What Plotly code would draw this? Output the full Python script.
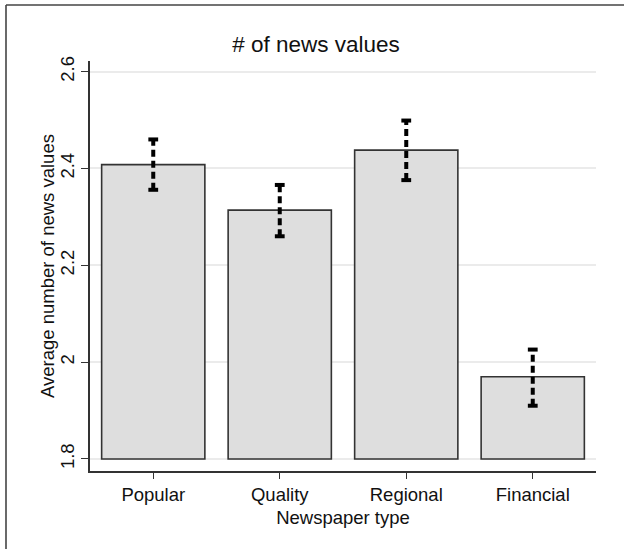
import plotly.graph_objects as go

categories = ["Popular", "Quality", "Regional", "Financial"]
means = [2.408, 2.314, 2.438, 1.970]
lower = [2.356, 2.260, 2.376, 1.910]
upper = [2.460, 2.366, 2.499, 2.026]
y_ticks = [1.8, 2.0, 2.2, 2.4, 2.6]
y_ticklabels = ["1.8", "2", "2.2", "2.4", "2.6"]
base_value = 1.8

FONT = "Liberation Sans, Arial, sans-serif"
W, H = 624, 549
L, R, T, B = 90, 28, 61, 78

fig = go.Figure()
fig.add_trace(go.Bar(
    x=categories,
    y=[m - base_value for m in means],
    base=[base_value] * len(means),
    width=0.816,
    marker=dict(color="#dedede", line=dict(color="#333333", width=1.6)),
    showlegend=False,
))

# dashed error bars
ex, ey = [], []
for c, lo, hi in zip(categories, lower, upper):
    ex += [c, c, None]
    ey += [lo, hi, None]
fig.add_trace(go.Scatter(
    x=ex, y=ey, mode="lines",
    line=dict(color="#000000", width=4, dash="7px,4px"),
    showlegend=False, hoverinfo="skip",
))
fig.add_trace(go.Scatter(
    x=categories + categories, y=lower + upper, mode="markers",
    marker=dict(symbol="line-ew", size=7, line=dict(color="#000000", width=4)),
    showlegend=False, hoverinfo="skip",
))

pw, ph = W - L - R, H - T - B

fig.update_layout(
    width=W, height=H,
    margin=dict(l=L, r=R, t=T, b=B, autoexpand=False),
    paper_bgcolor="white", plot_bgcolor="white",
    font=dict(family=FONT, size=18.5, color="#111111"),
    title=dict(text="# of news values", font=dict(size=22.5, family=FONT, color="#111111"),
               x=316 / W, xanchor="center", xref="container",
               y=1 - 44 / H, yanchor="middle", yref="container"),
    bargap=0.2,
)
fig.update_xaxes(
    range=[-0.5, 3.5], automargin=False,
    showline=True, linecolor="#333333", linewidth=1.6,
    ticks="outside", ticklen=6, tickwidth=1.2, tickcolor="#333333",
    showgrid=False, zeroline=False,
    tickfont=dict(size=18.5, family=FONT),
    title=dict(text="Newspaper type", font=dict(size=18.5, family=FONT), standoff=7),
)
fig.update_yaxes(
    range=[1.7752, 2.622], automargin=False,
    tickvals=y_ticks, ticktext=y_ticklabels, tickangle=-90,
    showline=True, linecolor="#333333", linewidth=1.6,
    ticks="outside", ticklen=7, tickwidth=1.2, tickcolor="#333333",
    showgrid=True, gridcolor="#ebebeb", gridwidth=1.5,
    zeroline=False,
    tickfont=dict(size=18.5, family=FONT),
)
fig.add_annotation(
    text="Average number of news values", textangle=-90,
    xref="paper", yref="paper", x=(47 - L) / pw, y=0.5,
    xanchor="center", yanchor="middle", showarrow=False,
    font=dict(size=18.5, family=FONT, color="#111111"),
)

# outer frame (top and left edges)
fx0 = (6 - L) / pw
fy0 = 1 + (T - 5) / ph
fig.add_shape(type="line", xref="paper", yref="paper",
              x0=fx0, x1=(W + 5 - L) / pw, y0=fy0, y1=fy0,
              line=dict(color="#444444", width=1.6))
fig.add_shape(type="line", xref="paper", yref="paper",
              x0=fx0, x1=fx0, y0=fy0, y1=-(B + 5) / ph,
              line=dict(color="#444444", width=1.6))

fig.write_html("out.html", config={"displayModeBar": False},
               post_script="document.body.style.margin='0';document.body.style.overflow='hidden';")
